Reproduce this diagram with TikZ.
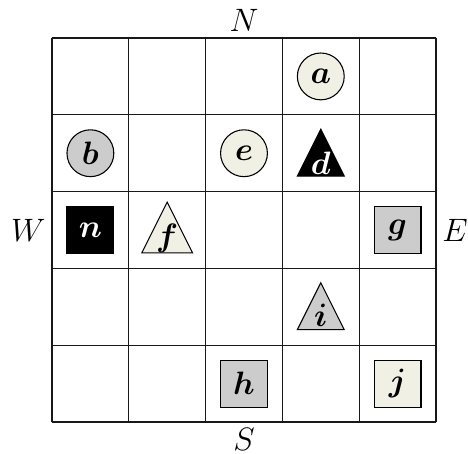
\documentclass[tikz,border=0pt]{standalone}
\usepackage{amsmath}
\usepackage{amssymb}
\usepackage{xcolor}
\usetikzlibrary{shapes,positioning}
\definecolor{pieceivory}{RGB}{240,240,228}
\definecolor{piecegray}{RGB}{204,204,204}

\begin{document}
\begin{tikzpicture}[
    every node/.style={font=\fontsize{11.5}{13}\selectfont},
    compass/.style={inner sep=2.2pt},
    coin/.style={circle, minimum size=0.61cm, inner sep=0pt, draw=black, thin},
    tile/.style={rectangle, minimum size=0.61cm, inner sep=0pt, draw=black, thin},
    cone/.style={isosceles triangle, isosceles triangle apex angle=53.13, shape border rotate=90, isosceles triangle stretches, minimum width=0.61cm, minimum height=0.61cm, inner sep=0pt, draw=black, thin, anchor=lower side},
    ivory/.style={fill=pieceivory},
    grey/.style={fill=piecegray},
    dark/.style={fill=black, text=white}
]
\useasboundingbox (-0.677,-0.416) rectangle (5.417,5.495);

% Board
\draw[black!90, line width=0.5pt] (0,0) grid (5,5);
\coordinate (north) at (2.5,5);
\coordinate (south) at (2.5,0);
\coordinate (west) at (0,2.5);
\coordinate (east) at (5,2.5);

% Compass labels
\node[compass, above=0pt of north] (N) {$N$};
\node[compass, below=0pt of south] (S) {$S$};
\node[compass, left=0pt of west] (W) {$W$};
\node[compass, right=0pt of east] (E) {$E$};

% Circles
\node[coin, ivory] (a) at (3.5,4.5) {$\boldsymbol{a}$};
\node[coin, grey] (b) at (0.5,3.5) {$\boldsymbol{b}$};
\node[coin, ivory] (e) at (2.5,3.5) {$\boldsymbol{e}$};

% Triangles (placed by the middle of the base)
\node[cone, dark] (d) at (3.5,3.195) {$\boldsymbol{d}$};
\node[cone, ivory] (f) at (1.5,2.195) {$\boldsymbol{f}$};
\node[cone, grey] (i) at (3.5,1.195) {$\boldsymbol{i}$};

% Squares
\node[tile, dark] (n) at (0.5,2.5) {$\boldsymbol{n}$};
\node[tile, grey] (g) at (4.5,2.5) {$\boldsymbol{g}$};
\node[tile, grey] (h) at (2.5,0.5) {$\boldsymbol{h}$};
\node[tile, ivory] (j) at (4.5,0.5) {$\boldsymbol{j}$};

\end{tikzpicture}
\end{document}
